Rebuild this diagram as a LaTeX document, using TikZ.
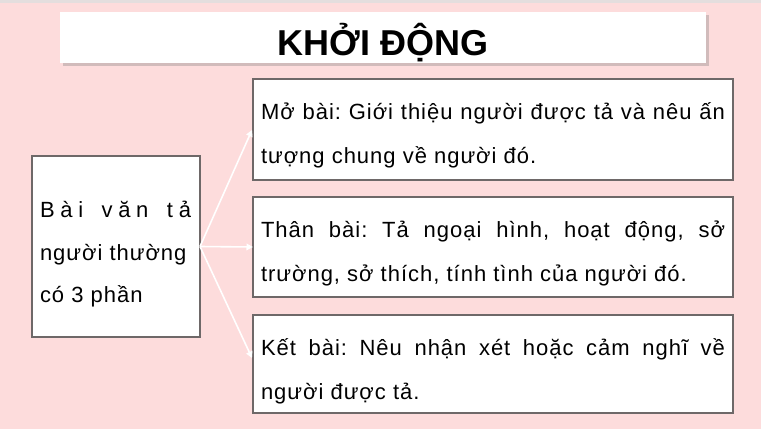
\documentclass[tikz,border=0pt]{standalone}
\usepackage{fontspec}
\setmainfont{Liberation Sans}
\newfontfamily\bodyfont[LetterSpace=4.5]{Liberation Sans}
\usetikzlibrary{shadows,arrows.meta}
\definecolor{bgpink}{HTML}{FDDCDC}
\definecolor{topgrey}{HTML}{E4DEDE}
\definecolor{boxgrey}{HTML}{6E6868}
\frenchspacing
\begin{document}
\begin{tikzpicture}[x=1pt,y=-1pt,
  card/.style={draw=boxgrey, line width=1.6pt, fill=white, inner sep=0pt, outer sep=0pt, anchor=north west},
  txt/.style={anchor=base west, inner sep=0pt, outer sep=0pt, font=\bodyfont\fontsize{22}{26}\selectfont},
  link/.style={draw=white, line width=1.6pt, -{Triangle[length=6.5pt,width=6.5pt]}}]
\path[use as bounding box, fill=bgpink] (0,0) rectangle (761,429);
\fill[topgrey] (0,0) rectangle (761,2.5);
% title
\node[fill=white, inner sep=0pt, outer sep=0pt, anchor=north west,
      minimum width=646pt, minimum height=51pt,
      drop shadow={opacity=0.35, shadow xshift=2.5pt, shadow yshift=-3pt}] (T) at (60,12) {};
\node[anchor=base, inner sep=0pt, font=\fontsize{36}{40}\selectfont\bfseries] (TT) at (383,55) {KHỞI ĐỘNG};
% boxes
\node[card, minimum width=168pt, minimum height=181pt] (L) at (32,156) {};
\node[card, minimum width=480pt, minimum height=101pt] (B1) at (253,79) {};
\node[card, minimum width=480pt, minimum height=100pt] (B2) at (253,197) {};
\node[card, minimum width=480pt, minimum height=98pt] (B3) at (253,315) {};
% left text
\node[txt] (l1) at (40,217) {\makebox[151pt][l]{B\hfill à\hfill i\hfill\ \hfill v\hfill ă\hfill n\hfill\ \hfill t\hfill ả}};
\node[txt] (l2) at (40,260) {người thường};
\node[txt] (l3) at (40,302) {có 3 phần};
% right texts
\node[txt] (a1) at (261,119) {\makebox[464pt][s]{Mở bài: Giới thiệu người được tả và nêu ấn}};
\node[txt] (a2) at (261,163) {tượng chung về người đó.};
\node[txt] (b1) at (261,237) {\makebox[464pt][s]{Thân bài: Tả ngoại hình, hoạt động, sở}};
\node[txt] (b2) at (261,281) {trường, sở thích, tính tình của người đó.};
\node[txt] (c1) at (261,355) {\makebox[464pt][s]{Kết bài: Nêu nhận xét hoặc cảm nghĩ về}};
\node[txt] (c2) at (261,399) {người được tả.};
% connectors
\coordinate (e1) at (252,130);
\coordinate (e3) at (252,358);
\draw[link] (L.east) -- (e1);
\draw[link] (L.east) -- (B2.west);
\draw[link] (L.east) -- (e3);
\end{tikzpicture}
\end{document}
